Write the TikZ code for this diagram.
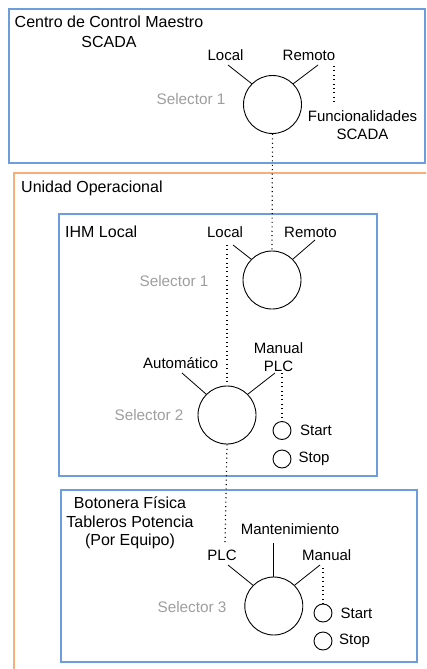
\documentclass[tikz,border=0pt]{standalone}
\usepackage{fontspec}
\setmainfont{Liberation Sans}
\definecolor{boxblue}{HTML}{6E9DDE}
\definecolor{boxorange}{HTML}{F8AE78}
\definecolor{selgray}{HTML}{9E9E9E}
\tikzset{
  bluebox/.style={draw=boxblue, line width=2pt},
  orangebox/.style={draw=boxorange, line width=2pt},
  title/.style={font=\fontsize{16}{18.5}\selectfont, inner sep=0pt, align=center},
  lbl/.style={font=\fontsize{15}{18}\selectfont, inner sep=0pt, align=center},
  selname/.style={font=\fontsize{15.3}{18}\selectfont, text=selgray, inner sep=0pt},
  selector/.style={circle, draw, line width=0.9pt, minimum size=58pt, inner sep=0pt},
  button/.style={circle, draw, line width=0.9pt, minimum size=18pt, inner sep=0pt},
  arm/.style={line width=0.8pt},
  dots/.style={line width=1.2pt, dash pattern=on 1pt off 3.4pt}
}
\begin{document}
\begin{tikzpicture}[x=1pt, y=-1pt]
\useasboundingbox (0,0) rectangle (426,669);
% boxes
\begin{scope}
\clip (0,0) rectangle (426,669);
\draw[orangebox] (13.5,690) -- (13.5,173) -- (440,173);
\end{scope}
\draw[bluebox] (9,9) rectangle (424.5,162.5);
\draw[bluebox] (59,214) rectangle (377,476);
\draw[bluebox] (61,490) rectangle (417,662);

% top box
\node[title, anchor=west] (ccm) at (14.5,22) {Centro de Control Maestro};
\node[title] (scada) at (109,42) {SCADA};
\node[selector] (s0) at (272.5,104.5) {};
\node[selname] (s0n) at (191,99) {Selector 1};
\node[lbl] (l0) at (225.5,55) {Local};
\node[lbl] (r0) at (309,55) {Remoto};
\node[lbl] (f0) at (362.5,125) {Funcionalidades\\SCADA};
\coordinate (l0a) at (228,65);
\coordinate (r0a) at (318,65);
\draw[arm] (l0a) -- (s0.135);
\draw[arm] (r0a) -- (s0.45);
\draw[dots] (334,66) -- (334,104);

% unidad operacional
\node[title, anchor=west] (uo) at (21,188) {Unidad Operacional};
\node[title, anchor=west] (ihm) at (65,232) {IHM Local};

\node[selector] (s1) at (272,280) {};
\node[selname] (s1n) at (174,281) {Selector 1};
\node[lbl] (l1) at (225,232) {Local};
\node[lbl] (r1) at (310.5,232) {Remoto};
\coordinate (l1a) at (233,245);
\coordinate (r1a) at (315,240);
\draw[arm] (l1a) -- (s1.135);
\draw[arm] (r1a) -- (s1.45);
\draw[dots] (s0.south) -- (s1.north);

\node[selector] (s2) at (227,415) {};
\node[selname] (s2n) at (149,415) {Selector 2};
\node[lbl] (a2) at (180.7,363) {Automático};
\node[lbl] (m2) at (278.5,357) {Manual\\PLC};
\coordinate (a2a) at (182,373);
\coordinate (m2a) at (275,373);
\draw[arm] (a2a) -- (s2.135);
\draw[arm] (m2a) -- (s2.45);
\draw[dots] (227,245) -- (s2.north);
\node[button] (st2) at (282,430.5) {};
\node[button] (sp2) at (282,459) {};
\node[lbl, anchor=west] (st2t) at (300,430) {Start};
\node[lbl, anchor=west] (sp2t) at (298.5,459) {Stop};
\draw[dots] (282,373) -- (st2.north);

% botonera
\node[title] (bot) at (130,523) {Botonera Física\\Tableros Potencia\\(Por Equipo)};
\node[selector] (s3) at (273.8,606) {};
\node[selname] (s3n) at (192,607) {Selector 3};
\node[lbl] (p3) at (222,555) {PLC};
\node[lbl] (mt3) at (290,529) {Mantenimiento};
\node[lbl] (m3) at (326.7,555) {Manual};
\coordinate (p3a) at (228,565);
\coordinate (mt3a) at (273.8,543);
\coordinate (m3a) at (320,565);
\draw[arm] (p3a) -- (s3.135);
\draw[arm] (mt3a) -- (s3.north);
\draw[arm] (m3a) -- (s3.45);
\draw[dots] (s2.south) -- (225,545);
\node[button] (st3) at (323,613) {};
\node[button] (sp3) at (323,641) {};
\node[lbl, anchor=west] (st3t) at (340.5,613) {Start};
\node[lbl, anchor=west] (sp3t) at (339,641) {Stop};
\draw[dots] (323,568) -- (st3.north);
\end{tikzpicture}
\end{document}
